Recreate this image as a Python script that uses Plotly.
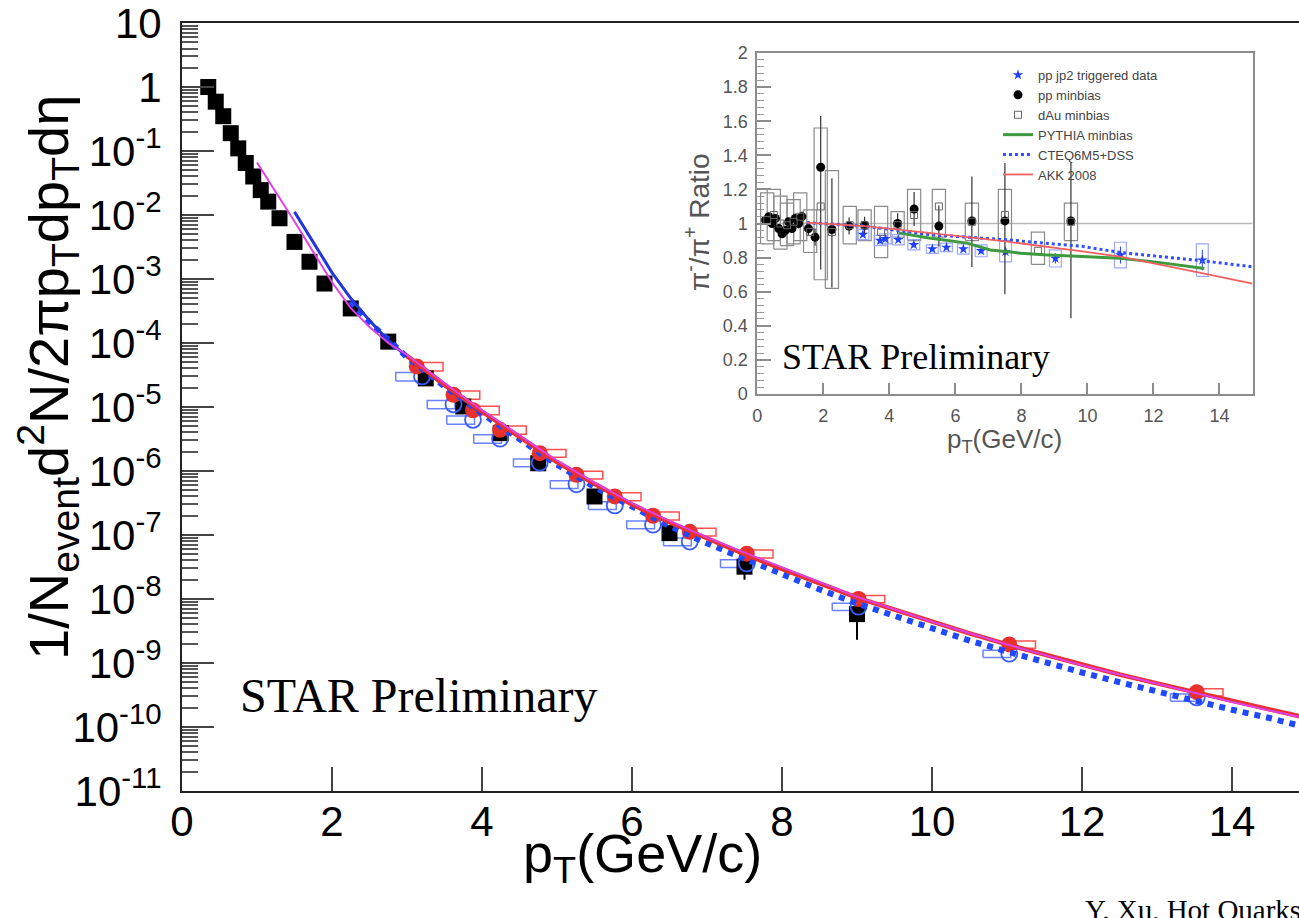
import plotly.graph_objects as go

# ---------------- main panel data ----------------
pp_x = [0.35, 0.45, 0.55, 0.65, 0.75, 0.85, 0.95, 1.05, 1.15, 1.3, 1.5, 1.7, 1.9, 2.25, 2.75,
        3.25, 3.75, 4.25, 4.75, 5.5, 6.5, 7.5, 9.0]
pp_y = [1.0, 0.59, 0.35, 0.19, 0.11, 0.065, 0.040, 0.0245, 0.0162, 0.0089, 0.0038, 0.00186,
        0.00085, 0.000347, 0.000105, 2.8e-5, 1.02e-5, 3.9e-6, 1.32e-6, 4.0e-7, 1.07e-7, 3.2e-8, 5.8e-9]
pp_err_up = [0, 0, 0, 0, 0, 0, 0, 0, 0, 0, 0, 0, 0, 0, 0, 0, 0, 0, 0, 0, 0, 8e-9, 2.6e-9]
pp_err_dn = [0, 0, 0, 0, 0, 0, 0, 0, 0, 0, 0, 0, 0, 0, 0, 0, 0, 0, 0, 0, 0, 1.2e-8, 3.5e-9]

red_x = [3.13, 3.62, 3.88, 4.24, 4.77, 5.26, 5.77, 6.28, 6.77, 7.53, 9.02, 11.03, 13.53]
red_y = [4.3e-5, 1.55e-5, 8.9e-6, 4.4e-6, 1.9e-6, 8.7e-7, 4.0e-7, 2.0e-7, 1.12e-7, 5.1e-8, 1.0e-8, 1.95e-9, 3.5e-10]
red_sys = [0.15, 0.15, 0.15, 0.15, 0.14, 0.14, 0.14, 0.14, 0.14, 0.14, 0.13, 0.13, 0.13]

blue_x = [3.2, 3.62, 3.88, 4.24, 4.77, 5.26, 5.77, 6.28, 6.77, 7.53, 9.02, 11.03, 13.53]
blue_y = [3.0e-5, 1.1e-5, 6.3e-6, 3.2e-6, 1.35e-6, 6.2e-7, 2.9e-7, 1.45e-7, 7.9e-8, 3.6e-8, 7.6e-9, 1.4e-9, 2.9e-10]
blue_sys = [0.15, 0.15, 0.15, 0.15, 0.14, 0.14, 0.14, 0.14, 0.14, 0.14, 0.13, 0.13, 0.13]

red_curve_x = [3.0, 3.5, 4.0, 4.5, 5.0, 5.5, 6.0, 6.5, 7.0, 7.5, 8.0, 8.5, 9.0, 9.5, 10.0, 10.5,
               11.0, 11.5, 12.0, 12.5, 13.0, 13.5, 14.0, 14.5, 15.0]
red_curve_y = [6.3e-5, 2.24e-5, 8.5e-6, 3.4e-6, 1.38e-6, 6.3e-7, 3.0e-7, 1.58e-7, 8.7e-8, 5.0e-8,
               2.95e-8, 1.74e-8, 1.05e-8, 6.8e-9, 4.4e-9, 2.9e-9, 1.95e-9, 1.35e-9, 9.3e-10,
               6.6e-10, 4.8e-10, 3.5e-10, 2.5e-10, 1.86e-10, 1.38e-10]

magenta_x = [1.0, 1.5, 2.0, 2.25, 2.5, 2.75, 3.0, 3.5, 4.0, 4.5, 5.0, 5.5, 6.0, 6.5, 7.0, 7.5,
             8.0, 9.0, 10.0, 11.0, 12.0, 13.0, 14.0, 15.0]
magenta_y = [0.066, 0.0079, 8.9e-4, 3.5e-4, 1.78e-4, 1.0e-4, 6.5e-5, 2.35e-5, 8.9e-6, 3.6e-6,
             1.45e-6, 6.6e-7, 3.15e-7, 1.66e-7, 9.2e-8, 5.3e-8, 3.1e-8, 1.08e-8, 4.4e-9,
             1.95e-9, 9.2e-10, 4.7e-10, 2.45e-10, 1.35e-10]

bsolid_x = [1.5, 2.0, 2.25, 2.5, 2.75, 3.0, 3.5, 4.0]
bsolid_y = [0.0112, 1.26e-3, 5.0e-4, 2.24e-4, 1.1e-4, 6.1e-5, 2.15e-5, 8.0e-6]

bdot_x = [2.25, 2.5, 3.0, 3.5, 4.0, 4.5, 5.0, 5.5, 6.0, 6.5, 7.0, 7.5, 8.0, 8.5, 9.0, 9.5, 10.0,
          10.5, 11.0, 11.5, 12.0, 12.5, 13.0, 13.5, 14.0, 14.5, 15.0]
bdot_y = [4.5e-4, 2.1e-4, 6.0e-5, 2.1e-5, 7.9e-6, 3.16e-6, 1.26e-6, 5.6e-7, 2.7e-7, 1.38e-7,
          7.4e-8, 4.2e-8, 2.4e-8, 1.41e-8, 8.5e-9, 5.4e-9, 3.5e-9, 2.24e-9, 1.51e-9, 1.02e-9,
          7.1e-10, 5.0e-10, 3.55e-10, 2.57e-10, 1.86e-10, 1.38e-10, 9.8e-11]

main_xticks = [0, 2, 4, 6, 8, 10, 12, 14]
main_yexp = [1, 0, -1, -2, -3, -4, -5, -6, -7, -8, -9, -10, -11]

# ---------------- inset data ----------------
mb_x = [0.25, 0.35, 0.45, 0.55, 0.65, 0.75, 0.85, 0.95, 1.05, 1.15, 1.25, 1.35, 1.55, 1.75,
        1.92, 2.26, 2.78, 3.25, 4.25, 4.75, 5.5, 6.5, 7.5, 9.5]
mb_y = [1.02, 1.04, 1.0, 1.03, 0.97, 0.94, 0.96, 1.01, 0.97, 1.03, 1.0, 1.04, 0.97, 0.92,
        1.33, 0.965, 0.985, 0.99, 1.0, 1.085, 0.985, 1.015, 1.015, 1.015]
mb_err_up = [0.02, 0.02, 0.02, 0.02, 0.02, 0.02, 0.02, 0.02, 0.02, 0.03, 0.03, 0.03, 0.04, 0.05,
             0.3, 0.3, 0.05, 0.05, 0.06, 0.1, 0.12, 0.26, 0.34, 0.34]
mb_err_dn = [0.02, 0.02, 0.02, 0.02, 0.02, 0.02, 0.02, 0.02, 0.02, 0.03, 0.03, 0.03, 0.04, 0.05,
             0.6, 0.34, 0.05, 0.05, 0.06, 0.1, 0.12, 0.27, 0.43, 0.57]

dau_x = [0.3, 0.5, 0.7, 0.9, 1.1, 1.3, 1.6, 1.92, 2.26, 2.8, 3.25, 3.75, 4.25, 4.75, 5.5, 6.5,
         7.5, 8.5, 9.5]
dau_lo = [0.88, 0.9, 0.85, 0.87, 0.88, 0.9, 0.83, 0.67, 0.62, 0.88, 0.9, 0.8, 0.92, 0.9, 0.92,
          0.9, 0.9, 0.76, 0.9]
dau_hi = [1.18, 1.2, 1.16, 1.12, 1.14, 1.18, 1.08, 1.56, 1.31, 1.1, 1.08, 1.1, 1.07, 1.2, 1.2,
          1.12, 1.2, 0.95, 1.12]
dau_y = [1.02, 1.05, 1.0, 0.99, 1.01, 1.04, 0.95, 1.1, 0.95, 0.99, 0.99, 0.95, 0.99, 1.05,
         1.1, 1.01, 1.05, 0.84, 1.01]

jp2_x = [3.2, 3.72, 3.88, 4.27, 4.74, 5.3, 5.73, 6.24, 6.78, 7.52, 9.03, 11.0, 13.48]
jp2_y = [0.935, 0.9, 0.91, 0.905, 0.875, 0.85, 0.86, 0.85, 0.84, 0.835, 0.795, 0.815, 0.785]
jp2_err = [0.01, 0.01, 0.01, 0.01, 0.01, 0.01, 0.01, 0.01, 0.015, 0.02, 0.03, 0.05, 0.06]
jp2_sys = [0.03, 0.03, 0.03, 0.03, 0.03, 0.025, 0.025, 0.03, 0.035, 0.06, 0.05, 0.075, 0.095]

pythia_x = [4.28, 5.2, 6.36, 7.06, 7.99, 8.68, 9.84, 10.99, 12.15, 13.54]
pythia_y = [0.945, 0.915, 0.885, 0.845, 0.826, 0.816, 0.806, 0.796, 0.772, 0.736]

cteq_x = [1.5, 3.24, 5.2, 7.52, 9.84, 10.99, 13.54, 15.0]
cteq_y = [1.005, 0.985, 0.935, 0.905, 0.866, 0.83, 0.78, 0.746]

akk_x = [1.5, 3.24, 5.2, 7.52, 9.84, 10.99, 13.54, 15.0]
akk_y = [1.005, 0.985, 0.945, 0.895, 0.836, 0.806, 0.706, 0.647]

inset_xticks = [0, 2, 4, 6, 8, 10, 12, 14]
inset_yticks = [0, 0.2, 0.4, 0.6, 0.8, 1.0, 1.2, 1.4, 1.6, 1.8, 2.0]
inset_yticktext = ["0", "0.2", "0.4", "0.6", "0.8", "1", "1.2", "1.4", "1.6", "1.8", "2"]

# ---------------- geometry (pixels) ----------------
W, H = 1299, 918
L, R, T, B = 182, 0, 23, 127
PW, PH = W - L - R, H - T - B


def px(xp):
    return (xp - L) / PW


def py(yp):
    return (H - B - yp) / PH


SANS = "Liberation Sans, Arial, Helvetica, sans-serif"
SERIF = "Liberation Serif, Times New Roman, serif"

fig = go.Figure()


def boxes(xs, lo, hi, x_left, x_right):
    bx, by = [], []
    for x, l, h in zip(xs, lo, hi):
        bx += [x - x_left, x + x_right, x + x_right, x - x_left, x - x_left, None]
        by += [l, l, h, h, l, None]
    return bx, by


# ---- main panel ----
bx, by = boxes(blue_x, [v * (1 - s) for v, s in zip(blue_y, blue_sys)],
               [v * (1 + s) for v, s in zip(blue_y, blue_sys)], 0.35, 0.02)
fig.add_trace(go.Scatter(x=bx, y=by, mode="lines", line=dict(color="#6a82ff", width=1.5),
                         showlegend=False, hoverinfo="skip"))
bx, by = boxes(red_x, [v * (1 - s) for v, s in zip(red_y, red_sys)],
               [v * (1 + s) for v, s in zip(red_y, red_sys)], 0.02, 0.35)
fig.add_trace(go.Scatter(x=bx, y=by, mode="lines", line=dict(color="#ff5050", width=1.5),
                         showlegend=False, hoverinfo="skip"))

fig.add_trace(go.Scatter(x=pp_x, y=pp_y, mode="markers",
                         marker=dict(symbol="square", size=16, color="black"),
                         error_y=dict(type="data", symmetric=False, array=pp_err_up,
                                      arrayminus=pp_err_dn, color="black", thickness=2, width=0),
                         showlegend=False))
fig.add_trace(go.Scatter(x=blue_x, y=blue_y, mode="markers",
                         marker=dict(symbol="circle-open", size=16, color="#3a5cff",
                                     line=dict(width=1.8)),
                         showlegend=False))
fig.add_trace(go.Scatter(x=red_x, y=red_y, mode="markers",
                         marker=dict(symbol="circle", size=16, color="#e8302c"),
                         showlegend=False))

fig.add_trace(go.Scatter(x=bdot_x, y=bdot_y, mode="lines",
                         line=dict(color="#1f48ff", width=6, dash="dot"), showlegend=False))
fig.add_trace(go.Scatter(x=bsolid_x, y=bsolid_y, mode="lines",
                         line=dict(color="#2236e0", width=3), showlegend=False))
fig.add_trace(go.Scatter(x=red_curve_x, y=red_curve_y, mode="lines",
                         line=dict(color="#e8302c", width=4.5), showlegend=False))
fig.add_trace(go.Scatter(x=magenta_x, y=magenta_y, mode="lines",
                         line=dict(color="#e040e8", width=2), showlegend=False))

# ---- inset ----
fig.add_trace(go.Scatter(x=[0, 15], y=[1, 1], mode="lines", xaxis="x2", yaxis="y2",
                         line=dict(color="#b8b8b8", width=1.5), showlegend=False, hoverinfo="skip"))
bx, by = boxes(dau_x, dau_lo, dau_hi, 0.2, 0.2)
fig.add_trace(go.Scatter(x=bx, y=by, mode="lines", xaxis="x2", yaxis="y2",
                         line=dict(color="#8a8a8a", width=1.2), showlegend=False, hoverinfo="skip"))
bx, by = boxes(jp2_x, [v - s for v, s in zip(jp2_y, jp2_sys)],
               [v + s for v, s in zip(jp2_y, jp2_sys)], 0.18, 0.18)
fig.add_trace(go.Scatter(x=bx, y=by, mode="lines", xaxis="x2", yaxis="y2",
                         line=dict(color="#9aa8ff", width=1.2), showlegend=False, hoverinfo="skip"))

fig.add_trace(go.Scatter(x=jp2_x, y=jp2_y, mode="markers", xaxis="x2", yaxis="y2",
                         name="pp jp2 triggered data",
                         marker=dict(symbol="star", size=8, color="#2040ff"),
                         error_y=dict(type="data", array=jp2_err, color="#2040ff", thickness=1, width=0)))
fig.add_trace(go.Scatter(x=mb_x, y=mb_y, mode="markers", xaxis="x2", yaxis="y2",
                         name="pp minbias",
                         marker=dict(symbol="circle", size=9, color="black"),
                         error_y=dict(type="data", symmetric=False, array=mb_err_up,
                                      arrayminus=mb_err_dn, color="#333333", thickness=1.2, width=0)))
fig.add_trace(go.Scatter(x=dau_x, y=dau_y, mode="markers", xaxis="x2", yaxis="y2",
                         name="dAu minbias",
                         marker=dict(symbol="square-open", size=7, color="#666666", line=dict(width=1))))
fig.add_trace(go.Scatter(x=pythia_x, y=pythia_y, mode="lines", xaxis="x2", yaxis="y2",
                         name="PYTHIA minbias", line=dict(color="#3d9a3d", width=3)))
fig.add_trace(go.Scatter(x=cteq_x, y=cteq_y, mode="lines", xaxis="x2", yaxis="y2",
                         name="CTEQ6M5+DSS", line=dict(color="#3050ff", width=3, dash="dot")))
fig.add_trace(go.Scatter(x=akk_x, y=akk_y, mode="lines", xaxis="x2", yaxis="y2",
                         name="AKK 2008", line=dict(color="#f06060", width=1.8)))

# ---------------- axes ----------------
minor_vals = []
for e in range(-11, 1):
    for k in range(2, 10):
        minor_vals.append(k * 10.0 ** e)

ytext = []
for e in main_yexp:
    if e == 1:
        ytext.append("10")
    elif e == 0:
        ytext.append("1")
    else:
        ytext.append("10<sup>%d</sup>" % e)

fig.update_layout(
    width=W, height=H,
    margin=dict(l=L, r=R, t=T, b=B, pad=0),
    paper_bgcolor="white", plot_bgcolor="white",
    font=dict(family=SANS, color="black"),
    xaxis=dict(domain=[0, 1], range=[0, (W - L) / 75.0], showline=True, linecolor="#222",
               linewidth=2, mirror=True, ticks="inside", ticklen=24, tickwidth=2, tickcolor="#444",
               tickvals=main_xticks, ticktext=[str(v) for v in main_xticks],
               tickfont=dict(size=42, family=SANS), showgrid=False, zeroline=False,
               ticklabelstandoff=-7, ticklabeloverflow="allow"),
    yaxis=dict(domain=[0, 1], type="log", range=[-11.0005, 1.0005], showline=True, linecolor="#222",
               linewidth=2, mirror=False, ticks="inside", ticklen=32, tickwidth=2, tickcolor="#444",
               tickvals=[10.0 ** e for e in main_yexp], ticktext=ytext,
               tickfont=dict(size=42, family=SANS), showgrid=False, zeroline=False,
               ticklabelstandoff=10, ticklabeloverflow="allow",
               minor=dict(tickvals=minor_vals, ticks="inside", ticklen=16, tickwidth=1.5,
                          tickcolor="#555", showgrid=False)),
    xaxis2=dict(domain=[px(757.3), px(1252.5)], anchor="y2", range=[0, 15], showline=True,
                linecolor="#8c8c8c", linewidth=2, mirror=True, ticks="inside", ticklen=11,
                tickwidth=1.5, tickcolor="#8c8c8c", tickvals=inset_xticks,
                tickfont=dict(size=18, color="#555"), showgrid=False, zeroline=False,
                ticklabelstandoff=4),
    yaxis2=dict(domain=[py(394), py(53)], anchor="x2", range=[0, 2], showline=True,
                linecolor="#8c8c8c", linewidth=2, mirror=True, ticks="inside", ticklen=14,
                tickwidth=1.5, tickcolor="#8c8c8c", tickvals=inset_yticks,
                ticktext=inset_yticktext, tickfont=dict(size=18, color="#555"),
                showgrid=False, zeroline=False, ticklabelstandoff=4,
                minor=dict(dtick=0.04, ticks="inside", ticklen=7, tickwidth=1,
                           tickcolor="#999", showgrid=False)),
    legend=dict(x=px(998), y=py(60), xanchor="left", yanchor="top",
                bgcolor="rgba(0,0,0,0)", font=dict(size=13, color="#444", family=SANS),
                tracegroupgap=0, itemwidth=30),
    showlegend=True,
)

ann = [
    dict(text="1/N<sub>event</sub>d<sup>2</sup>N/2πp<sub>T</sub>dp<sub>T</sub>dη",
         x=px(48), y=py(378), textangle=-90, font=dict(size=56, family=SANS)),
    dict(text="p<sub>T</sub>(GeV/c)", x=px(642), y=py(857), font=dict(size=54, family=SANS)),
    dict(text="STAR Preliminary", x=px(238), y=py(695), xanchor="left",
         font=dict(size=48, family=SERIF)),
    dict(text="STAR Preliminary", x=px(780), y=py(357), xanchor="left",
         font=dict(size=36, family=SERIF)),
    dict(text="p<sub>T</sub>(GeV/c)", x=px(1004), y=py(440), font=dict(size=26, color="#555", family=SANS)),
    dict(text="π<sup>-</sup>/π<sup>+</sup> Ratio", x=px(697), y=py(222), textangle=-90,
         font=dict(size=28, color="#555", family=SANS)),
    dict(text="Y. Xu, Hot Quarks 2008", x=px(1083), y=py(892), xanchor="left", yanchor="top",
         font=dict(size=29, family=SERIF)),
]
for a in ann:
    a.setdefault("xanchor", "center")
    a.setdefault("yanchor", "middle")
    fig.add_annotation(xref="paper", yref="paper", showarrow=False, **a)

fig.write_html("out.html")
